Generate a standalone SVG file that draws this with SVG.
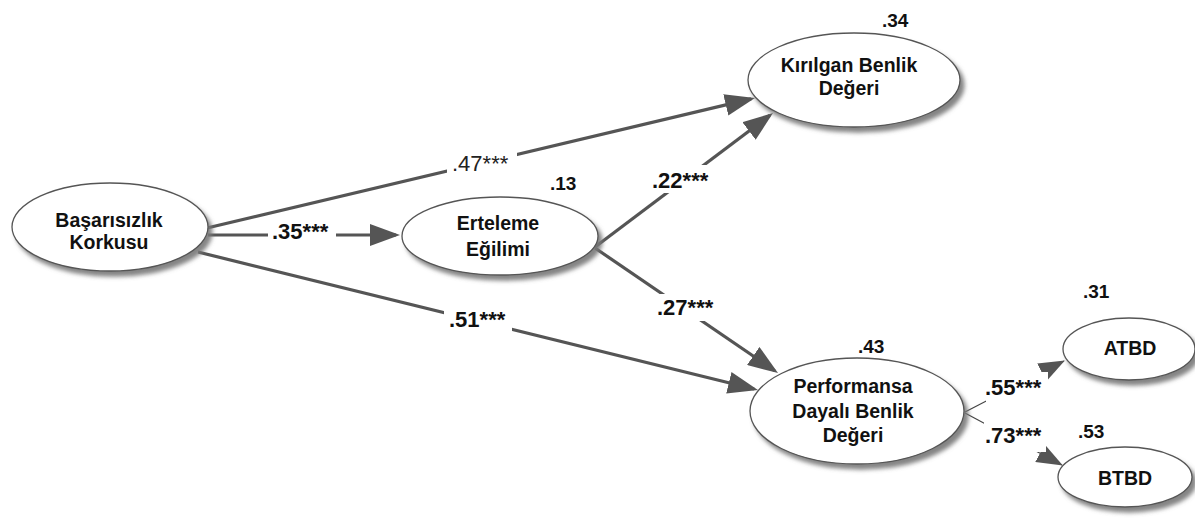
<svg xmlns="http://www.w3.org/2000/svg" width="1195" height="518" viewBox="0 0 1195 518">
<style>
  .node { fill: #ffffff; stroke: #555555; stroke-width: 1.3; filter: url(#shadow); }
  .nt { font-family: "Liberation Sans", Arial, sans-serif; font-weight: bold; font-size: 19.5px; fill: #111111; text-anchor: middle; }
  .r2 { font-family: "Liberation Sans", Arial, sans-serif; font-weight: bold; font-size: 19px; fill: #111111; }
  .lbl { font-family: "Liberation Sans", Arial, sans-serif; font-weight: bold; font-size: 22px; fill: #111111; }
  .lblr { font-family: "Liberation Sans", Arial, sans-serif; font-weight: normal; font-size: 22px; fill: #222222; }
  .edge { fill: none; stroke: #555555; stroke-width: 3.2; marker-end: url(#arrow); }
  .thin { fill: none; stroke: #444444; stroke-width: 1.2; marker-end: url(#arrow2); }
  .bg { fill: #ffffff; }
</style>
<defs>
  <filter id="shadow" x="-20%" y="-20%" width="150%" height="160%">
    <feGaussianBlur in="SourceAlpha" stdDeviation="2"/>
    <feOffset dx="4" dy="5" result="b"/>
    <feFlood flood-color="#777777" flood-opacity="0.9"/>
    <feComposite in2="b" operator="in"/>
    <feMerge><feMergeNode/><feMergeNode in="SourceGraphic"/></feMerge>
  </filter>
  <marker id="arrow" markerUnits="userSpaceOnUse" markerWidth="30" markerHeight="22" refX="26" refY="11" orient="auto">
    <path d="M0,0 L30,11 L0,22 z" fill="#555555"/>
  </marker>
  <marker id="arrow2" markerUnits="userSpaceOnUse" markerWidth="26" markerHeight="20" refX="25" refY="10" orient="auto">
    <path d="M0,0 L26,10 L0,20 z" fill="#555555"/>
  </marker>
</defs>
<rect width="1195" height="518" fill="#ffffff"/>

<g id="connectors">
  <path class="edge" d="M207,228 L751.1,98.9"/>
  <path class="edge" d="M208,235 L396,235"/>
  <path class="edge" d="M198,252 L754.1,389"/>
  <path class="edge" d="M595,247 L769.8,115.4"/>
  <path class="edge" d="M595,248 L774.7,370.7"/>
  <path class="thin" d="M965,412 L1064,361"/>
  <path class="thin" d="M965,413 L1062,465"/>

  <g id="label-bk-kbd">
    <rect class="bg" x="447" y="149" width="70" height="26"/>
    <text class="lblr" x="452" y="171">.47***</text>
  </g>
  <g id="label-bk-ee">
    <rect class="bg" x="268" y="217" width="68" height="26"/>
    <text class="lbl" x="272" y="239">.35***</text>
  </g>
  <g id="label-bk-pdbd">
    <rect class="bg" x="444" y="305" width="68" height="27"/>
    <text class="lbl" x="449" y="327">.51***</text>
  </g>
  <g id="label-ee-kbd">
    <rect class="bg" x="648" y="165" width="66" height="28"/>
    <text class="lbl" x="652" y="188">.22***</text>
  </g>
  <g id="label-ee-pdbd">
    <rect class="bg" x="653" y="294" width="66" height="27"/>
    <text class="lbl" x="657" y="315">.27***</text>
  </g>
  <g id="label-pdbd-atbd">
    <rect class="bg" x="986" y="372" width="62" height="32"/>
    <text class="lbl" x="985" y="395">.55***</text>
  </g>
  <g id="label-pdbd-btbd">
    <rect class="bg" x="984" y="421" width="62" height="31"/>
    <text class="lbl" x="985" y="443">.73***</text>
  </g>
</g>

<g id="node-bk">
  <ellipse class="node" cx="110" cy="227" rx="98" ry="44"/>
  <text class="nt" x="109" y="227">Başarısızlık</text>
  <text class="nt" x="109" y="249">Korkusu</text>
</g>

<g id="node-ee">
  <ellipse class="node" cx="500" cy="236" rx="98" ry="39"/>
  <text class="r2" x="550" y="190">.13</text>
  <text class="nt" x="498" y="230">Erteleme</text>
  <text class="nt" x="498" y="256">Eğilimi</text>
</g>

<g id="node-kbd">
  <ellipse class="node" cx="854" cy="80" rx="106" ry="47"/>
  <text class="r2" x="882" y="27">.34</text>
  <text class="nt" x="849" y="72">Kırılgan Benlik</text>
  <text class="nt" x="849" y="95">Değeri</text>
</g>

<g id="node-pdbd">
  <ellipse class="node" cx="857" cy="411" rx="107" ry="53"/>
  <text class="r2" x="858" y="353">.43</text>
  <text class="nt" x="853" y="393">Performansa</text>
  <text class="nt" x="853" y="418">Dayalı Benlik</text>
  <text class="nt" x="853" y="442">Değeri</text>
</g>

<g id="node-atbd">
  <ellipse class="node" cx="1129" cy="349" rx="66" ry="31"/>
  <text class="r2" x="1083" y="298">.31</text>
  <text class="nt" x="1130" y="355">ATBD</text>
</g>

<g id="node-btbd">
  <ellipse class="node" cx="1125" cy="477" rx="67" ry="30"/>
  <text class="r2" x="1078" y="438">.53</text>
  <text class="nt" x="1125" y="485">BTBD</text>
</g>
</svg>
